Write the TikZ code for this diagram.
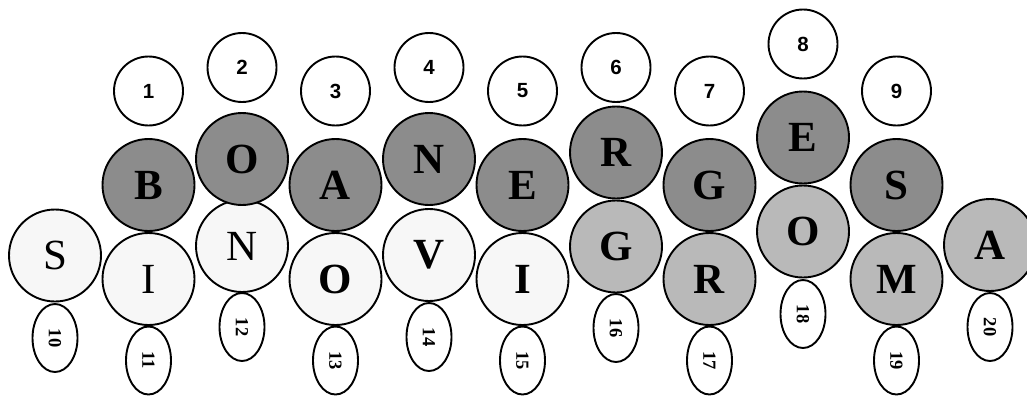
\documentclass[tikz,border=0pt]{standalone}
\usepackage{fontspec}
\setmainfont{Liberation Serif}
\newfontfamily\arialf{Liberation Sans}
\usetikzlibrary{shapes.geometric}
\definecolor{cdark}{RGB}{140,140,140}
\definecolor{clight}{RGB}{185,185,185}
\definecolor{cvlight}{RGB}{247,247,247}
\begin{document}
\begin{tikzpicture}[x=1pt,y=-1pt,
  numcirc/.style={circle,draw,line width=1.9pt,minimum size=69pt,inner sep=0pt,fill=white,font=\arialf\bfseries\fontsize{20.5}{20.5}\selectfont},
  letcirc/.style={circle,draw,line width=1.9pt,minimum size=92pt,inner sep=0pt,font=\bfseries\fontsize{43}{43}\selectfont},
  dark/.style={letcirc,fill=cdark},
  light/.style={letcirc,fill=clight},
  vlight/.style={letcirc,fill=cvlight},
  regular/.style={font=\mdseries\fontsize{43}{43}\selectfont},
  numell/.style={ellipse,draw,line width=1.9pt,minimum width=68pt,minimum height=45pt,inner sep=0pt,fill=white,rotate=-90,font=\bfseries\fontsize{18.5}{18.5}\selectfont}
]
\useasboundingbox (0,0) rectangle (1027,396);
% top number circles
\node[numcirc] (n1) at (148.5,91) {1};
\node[numcirc] (n2) at (242,67.5) {2};
\node[numcirc] (n3) at (335.5,91) {3};
\node[numcirc] (n4) at (429,67.5) {4};
\node[numcirc] (n5) at (522.5,91) {5};
\node[numcirc] (n6) at (616,67.5) {6};
\node[numcirc] (n7) at (709.5,91) {7};
\node[numcirc] (n8) at (803,44) {8};
\node[numcirc] (n9) at (896.5,91) {9};
% lower letter row
\node[vlight,regular] (l10) at (55,255.5) {S};
\node[vlight,regular] (l11) at (148.5,279) {I};
\node[vlight,regular] (l12) at (242,246) {N};
\node[vlight] (l13) at (335.5,279) {O};
\node[vlight] (l14) at (429,255) {V};
\node[vlight] (l15) at (522.5,279) {I};
\node[light] (l16) at (616,246.5) {G};
\node[light] (l17) at (709.5,279) {R};
\node[light] (l18) at (803,231.5) {O};
\node[light] (l19) at (896.5,279) {M};
\node[light] (l20) at (990,245) {A};
% upper letter row
\node[dark] (u1) at (148.5,185) {B};
\node[dark] (u2) at (242,159) {O};
\node[dark] (u3) at (335.5,185) {A};
\node[dark] (u4) at (429,159) {\raisebox{-3pt}{N}};
\node[dark] (u5) at (522.5,185) {\raisebox{-3pt}{E}};
\node[dark] (u6) at (616,152.5) {R};
\node[dark] (u7) at (709.5,185) {G};
\node[dark] (u8) at (803,137.5) {\raisebox{-5pt}{E}};
\node[dark] (u9) at (896.5,185) {S};
% bottom number ellipses
\node[numell] (e10) at (55,338) {10};
\node[numell] (e11) at (148.5,360.5) {11};
\node[numell] (e12) at (242,327) {12};
\node[numell] (e13) at (335.5,360.5) {13};
\node[numell] (e14) at (429,337) {14};
\node[numell] (e15) at (522.5,360.5) {15};
\node[numell] (e16) at (616,328) {16};
\node[numell] (e17) at (709.5,360.5) {17};
\node[numell] (e18) at (803,314) {18};
\node[numell] (e19) at (896.5,360.5) {19};
\node[numell] (e20) at (990,327) {20};
\end{tikzpicture}
\end{document}
